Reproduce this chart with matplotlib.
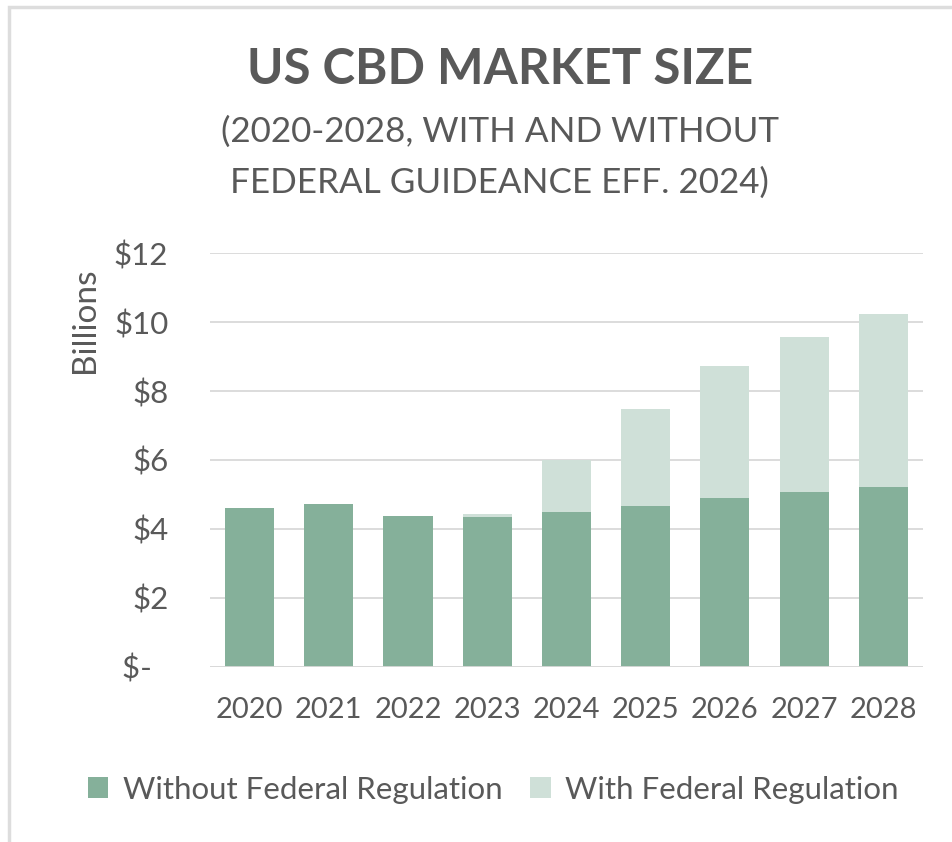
import matplotlib.pyplot as plt
from matplotlib.patches import Rectangle

plt.rcParams['font.family'] = ['Lato', 'DejaVu Sans']

years = ["2020", "2021", "2022", "2023", "2024", "2025", "2026", "2027", "2028"]
without_reg = [4.60, 4.71, 4.38, 4.35, 4.50, 4.67, 4.90, 5.06, 5.23]
with_reg_extra = [0.0, 0.0, 0.0, 0.08, 1.50, 2.81, 3.82, 4.50, 5.00]
y_ticks = [0, 2, 4, 6, 8, 10, 12]
y_tick_labels = ["$-  ", "$2", "$4", "$6", "$8", "$10", "$12"]

dark = "#85b09a"
light = "#cfe0d8"
text_col = "#595959"

fig = plt.figure(figsize=(9.52, 8.42), dpi=100)
ax = fig.add_axes([0.2206, 0.2082, 0.7489, 0.4910])

x = range(len(years))
ax.bar(x, without_reg, width=0.62, color=dark, label="Without Federal Regulation", zorder=3)
ax.bar(x, with_reg_extra, width=0.62, bottom=without_reg, color=light,
       label="With Federal Regulation", zorder=3)

ax.set_xlim(-0.5, len(years) - 0.5)
ax.set_ylim(0, 12)
ax.set_yticks(y_ticks)
ax.set_yticklabels(y_tick_labels)
ax.set_xticks(list(x))
ax.set_xticklabels(years)
ax.tick_params(axis="y", length=0, pad=30, labelsize=22.5, labelcolor=text_col)
ax.tick_params(axis="x", length=0, pad=22, labelsize=21, labelcolor=text_col)
for lbl in ax.get_yticklabels():
    lbl.set_horizontalalignment("right")
ax.yaxis.grid(True, color="#d9d9d9", linewidth=1.3, zorder=0)
for s in ax.spines.values():
    s.set_visible(False)
ax.axhline(0, color="#d9d9d9", linewidth=1.3, zorder=4)

fig.text(0.089, 0.62, "Billions", rotation=90, ha="center", va="center",
         fontsize=24, color=text_col)

fig.text(0.525, 0.917, "US CBD MARKET SIZE", ha="center", va="center",
         fontsize=35.5, fontweight="bold", color=text_col)
fig.text(0.525, 0.843, "(2020-2028, WITH AND WITHOUT", ha="center", va="center",
         fontsize=25.2, color=text_col)
fig.text(0.525, 0.783, "FEDERAL GUIDEANCE EFF. 2024)", ha="center", va="center",
         fontsize=25.2, color=text_col)

fig.legend(loc="center", bbox_to_anchor=(0.518, 0.062), ncol=2, frameon=False,
           fontsize=22.5, labelcolor=text_col, handlelength=0.65, handleheight=0.65,
           handletextpad=0.45, columnspacing=0.9)

# thin frame on the top and left edges
fig.patches.append(Rectangle((0.0095, -0.1), 1.2, 1.0917, transform=fig.transFigure,
                             fill=False, edgecolor="#dddddd", linewidth=2.5))

fig.savefig("out.png", dpi=100)
